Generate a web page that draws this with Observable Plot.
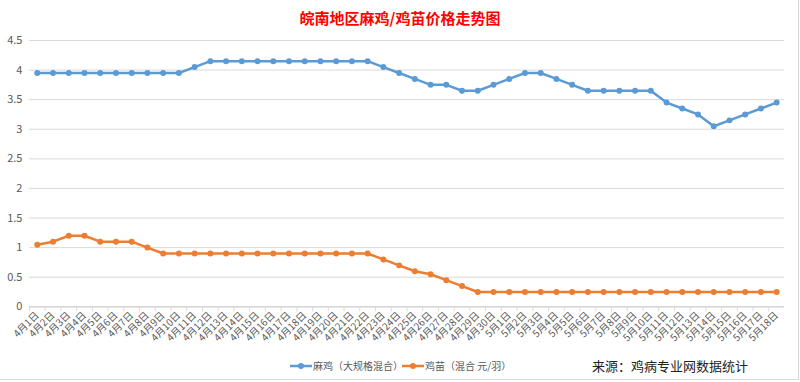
<!DOCTYPE html>
<html>
<head>
<meta charset="utf-8">
<script src="https://cdn.jsdelivr.net/npm/d3@7"></script>
<script src="https://cdn.jsdelivr.net/npm/@observablehq/plot@0.6"></script>
<style>
  html, body { margin: 0; padding: 0; background: #fff; }
  #wrap { position: relative; width: 798px; height: 379px; border-right: 1px solid #d9d9d9; border-bottom: 1px solid #d9d9d9; background: #fff; overflow: hidden; font-family: "Noto Sans CJK SC", "Noto Sans", sans-serif; }
  #title { height: 30px; line-height: 36px; text-align: center; color: #ff0000; font-size: 15px; font-weight: bold; width: 800px; }
  #chart { position: absolute; left: 0; top: 30px; }
  .leg { position: absolute; top: 358px; font-size: 10px; color: #595959; display: flex; align-items: center; white-space: nowrap; }
  .leg svg { margin-right: 1px; }
  #src { position: absolute; left: 592px; top: 356px; font-size: 13px; color: #222; white-space: nowrap; }
</style>
</head>
<body>
<div id="wrap">
  <div id="title">皖南地区麻鸡/鸡苗价格走势图</div>
  <div id="chart"></div>
  <div class="leg" id="leg1" style="left:290px"></div>
  <div class="leg" id="leg2" style="left:402px"></div>
  <div id="src">来源：鸡病专业网数据统计</div>
</div>
<script>
const dates = [
  "4月1日","4月2日","4月3日","4月4日","4月5日","4月6日","4月7日","4月8日","4月9日","4月10日",
  "4月11日","4月12日","4月13日","4月14日","4月15日","4月16日","4月17日","4月18日","4月19日","4月20日",
  "4月21日","4月22日","4月23日","4月24日","4月25日","4月26日","4月27日","4月28日","4月29日","4月30日",
  "5月1日","5月2日","5月3日","5月4日","5月5日","5月6日","5月7日","5月8日","5月9日","5月10日",
  "5月11日","5月12日","5月13日","5月14日","5月15日","5月16日","5月17日","5月18日"
];
const maji = [
  3.95,3.95,3.95,3.95,3.95,3.95,3.95,3.95,3.95,3.95,
  4.05,4.15,4.15,4.15,4.15,4.15,4.15,4.15,4.15,4.15,
  4.15,4.15,4.05,3.95,3.85,3.75,3.75,3.65,3.65,3.75,
  3.85,3.95,3.95,3.85,3.75,3.65,3.65,3.65,3.65,3.65,
  3.45,3.35,3.25,3.05,3.15,3.25,3.35,3.45
];
const jimiao = [
  1.05,1.1,1.2,1.2,1.1,1.1,1.1,1.0,0.9,0.9,
  0.9,0.9,0.9,0.9,0.9,0.9,0.9,0.9,0.9,0.9,
  0.9,0.9,0.8,0.7,0.6,0.55,0.45,0.35,0.25,0.25,
  0.25,0.25,0.25,0.25,0.25,0.25,0.25,0.25,0.25,0.25,
  0.25,0.25,0.25,0.25,0.25,0.25,0.25,0.25
];
const yTicks = [0,0.5,1,1.5,2,2.5,3,3.5,4,4.5];
const seriesNames = ["麻鸡（大规格混合）","鸡苗（混合 元/羽）"];
const colors = ["#5b9bd5","#ed7d31"];

const rows = [];
dates.forEach((d,i) => rows.push({date: d, v: maji[i], s: seriesNames[0]}));
dates.forEach((d,i) => rows.push({date: d, v: jimiao[i], s: seriesNames[1]}));

const W = 800, ML = 29, MR = 14;
const bw = (W - ML - MR) / dates.length;

const chart = Plot.plot({
  width: W, height: 322,
  marginTop: 10, marginLeft: ML, marginRight: MR, marginBottom: 45,
  style: {fontFamily: "'Noto Sans CJK SC', 'Noto Sans', sans-serif", fontSize: "10px", color: "#595959", background: "transparent"},
  x: {type: "band", domain: dates, padding: 0, label: null},
  y: {domain: [0, 4.5], label: null},
  color: {domain: seriesNames, range: colors},
  marks: [
    Plot.gridY(yTicks, {stroke: "#d9d9d9", strokeOpacity: 1}),
    Plot.ruleY([0], {stroke: "#cfcfcf"}),
    Plot.axisY(yTicks, {tickSize: 0, tickPadding: 7, label: null, fontSize: 11, fill: "#595959", tickFormat: d => String(d)}),
    Plot.axisX({tickSize: 0, tickRotate: -45, tickPadding: 7, label: null, fill: "#595959", fontSize: 10}),
    Plot.axisX({tickSize: 5, tickFormat: () => "", dx: -bw/2, stroke: "#d9d9d9", label: null}),
    Plot.line(rows, {x: "date", y: "v", z: "s", stroke: "s", strokeWidth: 2.5}),
    Plot.dot(rows, {x: "date", y: "v", fill: "s", r: 3})
  ]
});
document.getElementById("chart").appendChild(chart);

function legendItem(id, name, color) {
  const el = document.getElementById(id);
  el.innerHTML = `<svg width="22" height="10"><line x1="0" y1="5" x2="22" y2="5" stroke="${color}" stroke-width="2.5"/><circle cx="11" cy="5" r="3" fill="${color}"/></svg><span>${name}</span>`;
}
legendItem("leg1", seriesNames[0], colors[0]);
legendItem("leg2", seriesNames[1], colors[1]);
</script>
</body>
</html>
